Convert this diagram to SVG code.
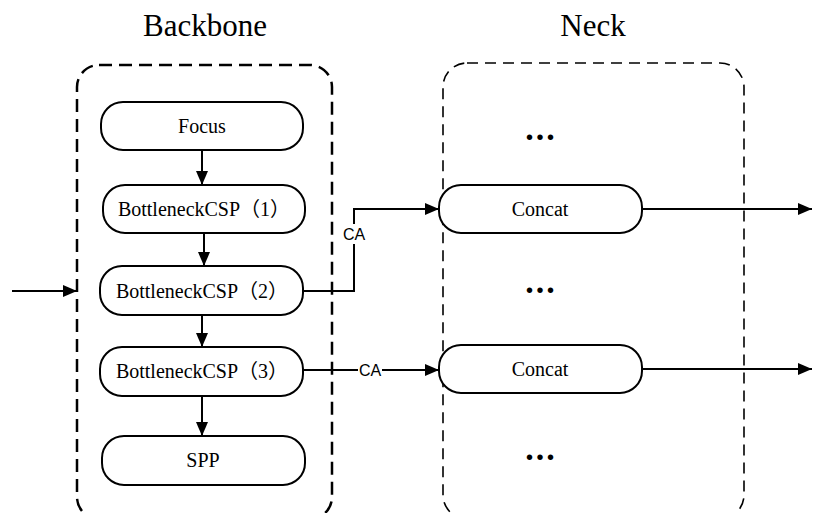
<svg xmlns="http://www.w3.org/2000/svg" width="813" height="513" viewBox="0 0 813 513">
<style>
.node rect{fill:#fff;stroke:#000;stroke-width:2}
.lbl{font-family:"Liberation Serif","Noto Sans CJK SC",serif;font-size:20px;fill:#000;text-anchor:middle;dominant-baseline:central}
.title{font-family:"Liberation Serif",serif;font-size:31px;fill:#000;text-anchor:middle}
.dots{font-family:"Liberation Serif",serif;font-size:34px;font-weight:bold;fill:#000;text-anchor:middle;letter-spacing:2px}
.ca{font-family:"Liberation Sans",sans-serif;font-size:16px;fill:#000;text-anchor:middle;dominant-baseline:central}
.conn path{fill:none;stroke:#000;stroke-width:2}
</style>
<defs>
<marker id="arr" viewBox="0 0 14 12" refX="14" refY="6" markerWidth="14" markerHeight="12" markerUnits="userSpaceOnUse" orient="auto">
<path d="M0,0 L14,6 L0,12 Z" fill="#000"/>
</marker>
</defs>
<rect width="813" height="513" fill="#fff"/>
<text class="title" x="205" y="36">Backbone</text>
<text class="title" x="593" y="36">Neck</text>
<g id="backbone">
<rect x="77" y="65" width="255" height="454" rx="22" fill="none" stroke="#000" stroke-width="2.5" stroke-dasharray="13 7"/>
</g>
<g id="neck">
<rect x="443" y="63" width="301" height="456" rx="24" fill="none" stroke="#000" stroke-width="1.6" stroke-dasharray="11 7"/>
</g>
<g class="conn" id="connectors">
<path d="M202,150 V185" marker-end="url(#arr)"/>
<path d="M204,233 V266" marker-end="url(#arr)"/>
<path d="M202,315 V347" marker-end="url(#arr)"/>
<path d="M202,396 V436" marker-end="url(#arr)"/>
<path d="M12,291 H77" marker-end="url(#arr)"/>
<path d="M303,291 H354 V222"/>
<path d="M354,246 V209 H439" marker-end="url(#arr)"/>
<path d="M303,370 H358"/>
<path d="M382,370 H439" marker-end="url(#arr)"/>
<path d="M642,209 H812" marker-end="url(#arr)"/>
<path d="M642,369 H812" marker-end="url(#arr)"/>
</g>
<g id="ca1"><rect x="342" y="224" width="24" height="20" fill="#fff"/><text class="ca" x="354" y="234">CA</text></g>
<g id="ca2"><text class="ca" x="370" y="370">CA</text></g>
<g id="focus" class="node"><rect x="101" y="102" width="202" height="48" rx="22"/><text class="lbl" x="202" y="126">Focus</text></g>
<g id="bcsp1" class="node"><rect x="103" y="185" width="202" height="48" rx="22"/><text class="lbl" x="204" y="209">BottleneckCSP（1）</text></g>
<g id="bcsp2" class="node"><rect x="100" y="266" width="203" height="49" rx="22"/><text class="lbl" x="202" y="291">BottleneckCSP（2）</text></g>
<g id="bcsp3" class="node"><rect x="100" y="347" width="203" height="49" rx="22"/><text class="lbl" x="202" y="371">BottleneckCSP（3）</text></g>
<g id="spp" class="node"><rect x="102" y="436" width="203" height="49" rx="22"/><text class="lbl" x="203" y="460">SPP</text></g>
<g id="concat1" class="node"><rect x="439" y="185" width="203" height="48" rx="22"/><text class="lbl" x="540" y="209">Concat</text></g>
<g id="concat2" class="node"><rect x="439" y="345" width="203" height="48" rx="22"/><text class="lbl" x="540" y="369">Concat</text></g>
<text class="dots" x="541" y="140">...</text>
<text class="dots" x="541" y="293">...</text>
<text class="dots" x="541" y="460">...</text>
</svg>
